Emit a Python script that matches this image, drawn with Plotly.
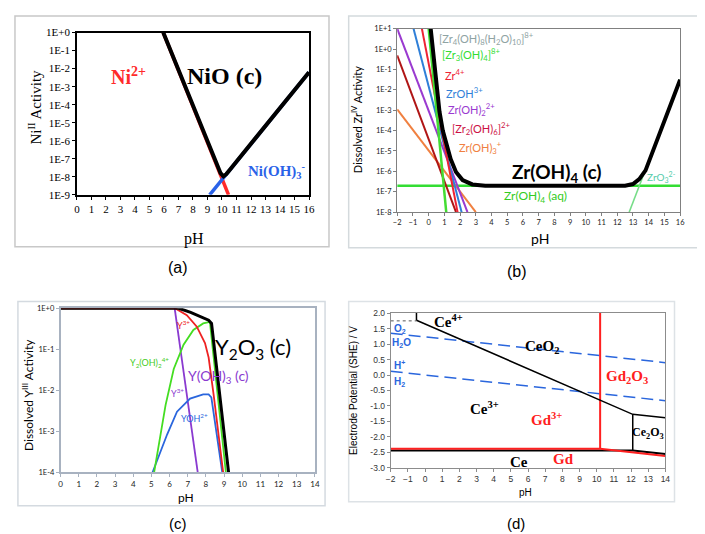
import plotly.graph_objects as go
import numpy as np

W, H = 705, 534

# ---------------- (a) Ni ----------------
a_ph_total = [5.95, 9.6, 9.9, 10.1, 10.3, 10.6, 16.0]
a_log_total = [0.0, -7.3, -7.8, -7.97, -7.85, -7.55, -2.2]
a_ph_ni2 = [5.95, 10.45]
a_log_ni2 = [0.0, -9.0]
a_ph_nioh3 = [9.15, 16.0]
a_log_nioh3 = [-9.0, -2.2]
a_yticks = [0, -1, -2, -3, -4, -5, -6, -7, -8, -9]

# ---------------- (b) Zr ----------------
b_ph_total = [0.13, 0.44, 0.69, 0.9, 1.12, 1.4, 1.74, 2.16, 2.78, 3.6, 12.5, 13.0, 13.4, 13.8, 16.0]
b_log_total = [1.0, -1.48, -3.07, -4.0, -4.67, -5.4, -6.03, -6.43, -6.64, -6.7, -6.7, -6.62, -6.38, -5.95, -1.5]
b_ph_zroh3 = [-2.0, 3.0]
b_log_zroh3 = [-2.96, -8.0]
b_ph_zr2oh6 = [-2.0, 1.74]
b_log_zr2oh6 = [-0.31, -8.0]
b_ph_zroh2 = [-2.0, 2.47]
b_log_zroh2 = [1.0, -8.0]
b_ph_zroh = [-0.96, 2.1]
b_log_zroh = [1.0, -8.0]
b_ph_zr4 = [-0.43, 1.84]
b_log_zr4 = [1.0, -8.0]
b_ph_zr3 = [0.0, 1.12]
b_log_zr3 = [1.0, -8.0]
b_ph_aq = [-2.0, 16.0]
b_log_aq = [-6.7, -6.7]
b_ph_zro3 = [12.76, 16.0]
b_log_zro3 = [-8.0, -1.5]
b_yticks = [1, 0, -1, -2, -3, -4, -5, -6, -7, -8]

# ---------------- (c) Y ----------------
c_ph_total = [0.0, 6.5, 7.16, 7.7, 8.15, 8.31, 9.25]
c_log_total = [0.0, 0.0, -0.1, -0.2, -0.29, -0.37, -4.0]
c_ph_y3 = [0.0, 6.3, 6.95, 7.5, 7.95, 8.15, 8.43, 8.95]
c_log_y3 = [0.0, 0.0, -0.17, -0.45, -0.85, -1.2, -2.12, -4.0]
c_ph_y2oh2 = [5.15, 5.78, 6.23, 6.77, 7.31, 7.85, 8.22, 9.1]
c_log_y2oh2 = [-4.0, -2.36, -1.48, -0.89, -0.53, -0.37, -0.33, -4.0]
c_ph_yoh = [5.06, 5.87, 6.41, 7.13, 7.85, 8.15, 8.3, 8.9]
c_log_yoh = [-4.0, -3.07, -2.52, -2.2, -2.1, -2.1, -2.17, -4.0]
c_ph_y3b = [6.28, 7.55]
c_log_y3b = [0.0, -4.0]
c_yticks = [0, -1, -2, -3, -4]

# ---------------- (d) Ce / Gd Pourbaix ----------------
d_ph_ce4v = [-0.5, -0.5]
d_e_ce4v = [2.0, 1.77]
d_ph_ceo2 = [-0.5, 12.1, 14.0]
d_e_ceo2 = [1.77, -1.27, -1.38]
d_ph_ce2o3v = [12.1, 12.1]
d_e_ce2o3v = [-1.27, -2.43]
d_ph_ce = [-2.0, 12.1, 14.0]
d_e_ce = [-2.44, -2.44, -2.55]
d_ph_dot = [-2.0, -0.5]
d_e_dot = [1.75, 1.75]
d_ph_gd = [-2.0, 10.2, 14.0]
d_e_gd = [-2.38, -2.38, -2.62]
d_ph_gdv = [10.2, 10.2]
d_e_gdv = [-2.38, 2.0]
d_ph_o2 = [-2.0, 14.0]
d_e_o2 = [1.35, 0.40]
d_ph_h2 = [-2.0, 14.0]
d_e_h2 = [0.12, -0.83]

SERIF = "Liberation Serif"
SANS = "Lato"
ARIAL = "Liberation Sans"

def px_dom(x0, x1):
    return [x0 / W, x1 / W]

def py_dom(y0, y1):
    return [1 - y1 / H, 1 - y0 / H]

fig = go.Figure()

def line(x, y, color, width, xa, ya, dash="solid", logy=False):
    yy = np.power(10.0, np.array(y)) if logy else y
    fig.add_trace(go.Scatter(x=x, y=yy, mode="lines", xaxis=xa, yaxis=ya,
                             line=dict(color=color, width=width, dash=dash),
                             showlegend=False, hoverinfo="skip"))

# (a)
line(a_ph_ni2, a_log_ni2, "#ff2a2a", 3.5, "x", "y", logy=True)
line(a_ph_nioh3, a_log_nioh3, "#2a62e8", 3.5, "x", "y", logy=True)
line(a_ph_total, a_log_total, "#000000", 4, "x", "y", logy=True)

# (b)
line(b_ph_aq, b_log_aq, "#33dd33", 2.5, "x2", "y2", logy=True)
line(b_ph_zroh3, b_log_zroh3, "#f08040", 2, "x2", "y2", logy=True)
line(b_ph_zr2oh6, b_log_zr2oh6, "#b01515", 2, "x2", "y2", logy=True)
line(b_ph_zroh2, b_log_zroh2, "#9a3ad0", 2, "x2", "y2", logy=True)
line(b_ph_zroh, b_log_zroh, "#2f7fd8", 2, "x2", "y2", logy=True)
line(b_ph_zr4, b_log_zr4, "#ee2233", 2, "x2", "y2", logy=True)
line(b_ph_zr3, b_log_zr3, "#44dd33", 2.5, "x2", "y2", logy=True)
line(b_ph_zro3, b_log_zro3, "#77dd88", 1.5, "x2", "y2", logy=True)
line(b_ph_total, b_log_total, "#000000", 4, "x2", "y2", logy=True)

# (c)
line(c_ph_y3b, c_log_y3b, "#8a3ad0", 1.8, "x3", "y3", logy=True)
line(c_ph_yoh, c_log_yoh, "#2a66dd", 1.8, "x3", "y3", logy=True)
line(c_ph_y2oh2, c_log_y2oh2, "#44dd22", 1.8, "x3", "y3", logy=True)
line(c_ph_y3, c_log_y3, "#ee2222", 1.8, "x3", "y3", logy=True)
line(c_ph_total, c_log_total, "#000000", 3, "x3", "y3", logy=True)

# (d)
line(d_ph_o2, d_e_o2, "#2a66dd", 1.5, "x4", "y4", dash="12px,6px")
line(d_ph_h2, d_e_h2, "#2a66dd", 1.5, "x4", "y4", dash="12px,6px")
line(d_ph_dot, d_e_dot, "#555555", 1, "x4", "y4", dash="dot")
line(d_ph_ce, d_e_ce, "#000000", 2, "x4", "y4")
line(d_ph_gd, d_e_gd, "#ff2020", 2, "x4", "y4")
line(d_ph_gdv, d_e_gdv, "#ff2020", 2, "x4", "y4")
line(d_ph_ce4v, d_e_ce4v, "#000000", 1.5, "x4", "y4")
line(d_ph_ceo2, d_e_ceo2, "#000000", 1.5, "x4", "y4")
line(d_ph_ce2o3v, d_e_ce2o3v, "#000000", 1.5, "x4", "y4")

def logticks(vals):
    tv = [10.0 ** v for v in vals]
    tt = [("1E+%d" % v) if v >= 0 else ("1E%d" % v) for v in vals]
    return tv, tt

a_tv, a_tt = logticks(a_yticks)
b_tv, b_tt = logticks(b_yticks)
c_tv, c_tt = logticks(c_yticks)

common = dict(showgrid=False, zeroline=False, mirror=True, showline=True)

layout = dict(
    width=W, height=H, margin=dict(l=0, r=0, t=0, b=0),
    paper_bgcolor="white", plot_bgcolor="white", showlegend=False,
    xaxis=dict(domain=px_dom(65, 300.7), anchor="y", range=[0, 16], tickmode="array",
               tickvals=list(range(0, 17)), linecolor="black", linewidth=1.5,
               ticks="outside", ticklen=3, tickcolor="black",
               tickfont=dict(family=SERIF, size=11, color="black"), **common),
    yaxis=dict(domain=py_dom(19, 185), anchor="x", type="log", range=[-9, 0],
               tickmode="array", tickvals=a_tv, ticktext=a_tt, linecolor="black", linewidth=1.5,
               ticks="outside", ticklen=3, tickcolor="black",
               tickfont=dict(family=SERIF, size=11, color="black"), **common),
    xaxis2=dict(domain=px_dom(390.3, 677.7), anchor="y2", range=[-2, 16], tickmode="array",
                tickvals=list(range(-2, 17)), linecolor="#808080", linewidth=1,
                ticks="outside", ticklen=3, tickcolor="#808080",
                tickfont=dict(family=SANS, size=7.5, color="#222"), **common),
    yaxis2=dict(domain=py_dom(15, 202.7), anchor="x2", type="log", range=[-8, 1],
                tickmode="array", tickvals=b_tv, ticktext=b_tt, linecolor="#808080", linewidth=1,
                ticks="outside", ticklen=3, tickcolor="#808080",
                tickfont=dict(family=SANS, size=7.5, color="#222"), **common),
    xaxis3=dict(domain=px_dom(48.3, 306.7), anchor="y3", range=[0, 14], tickmode="array",
                tickvals=list(range(0, 15)), linecolor="#a8b2c0", linewidth=1.5,
                ticks="outside", ticklen=3, tickcolor="#a8b2c0",
                tickfont=dict(family=SANS, size=8, color="#222"), **common),
    yaxis3=dict(domain=py_dom(301, 469), anchor="x3", type="log", range=[-4, 0],
                tickmode="array", tickvals=c_tv, ticktext=c_tt, linecolor="#a8b2c0", linewidth=1.5,
                ticks="outside", ticklen=3, tickcolor="#a8b2c0",
                tickfont=dict(family=SANS, size=7.5, color="#222"), **common),
    xaxis4=dict(domain=px_dom(383.7, 662.7), anchor="y4", range=[-2, 14], tickmode="array",
                tickvals=list(range(-2, 15)), linecolor="#8c8c8c", linewidth=1,
                ticks="outside", ticklen=3, tickcolor="#8c8c8c",
                tickfont=dict(family=ARIAL, size=8.5, color="#333"), **common),
    yaxis4=dict(domain=py_dom(306, 464.3), anchor="x4", range=[-3, 2], tickmode="array",
                tickvals=[2, 1.5, 1, 0.5, 0, -0.5, -1, -1.5, -2, -2.5, -3],
                ticktext=["2.0", "1.5", "1.0", "0.5", "0.0", "-0.5", "-1.0", "-1.5", "-2.0", "-2.5", "-3.0"],
                linecolor="#8c8c8c", linewidth=1,
                ticks="outside", ticklen=3, tickcolor="#8c8c8c",
                tickfont=dict(family=ARIAL, size=8.5, color="#333"), **common),
)
fig.update_layout(**layout)

# outer frames
frames = [(2, 2, 321, 238, "#c8c8c8"), (341, 2, 702, 239, "#d4dadd"),
          (5, 294, 317, 503, "#d4dae0"), (341, 294, 672, 499, "#dde2e6")]
for x0, y0, x1, y1, c in frames:
    fig.add_shape(type="rect", xref="paper", yref="paper", x0=x0 / W, x1=x1 / W,
                  y0=1 - y1 / H, y1=1 - y0 / H, line=dict(color=c, width=1.5))

ann = []
def A(text, x, y, xr, yr, size, color="black", family=SANS, angle=0, xanchor="center", bold=False):
    if bold:
        text = "<b>" + text + "</b>"
    ann.append(dict(text=text, x=x, y=y, xref=xr, yref=yr, showarrow=False,
                    font=dict(size=size, color=color, family=family), textangle=angle,
                    xanchor=xanchor, yanchor="middle"))

def P(text, px, py, size, color="black", family=SANS, angle=0, xanchor="center", bold=False):
    A(text, px / W, 1 - py / H, "paper", "paper", size, color, family, angle, xanchor, bold)

# captions
P("(a)", 168, 259, 16, family=ARIAL)
P("(b)", 512, 263, 16, family=ARIAL)
P("(c)", 168, 521, 15, family=ARIAL)
P("(d)", 511, 521, 15, family=ARIAL)

# axis titles
P("Ni<sup>II</sup> Activity", 22, 95, 15, family=SERIF, angle=-90)
P("pH", 184, 230, 16, family=SERIF)
P("Dissolved Zr<sup>IV</sup> Activity", 349, 108, 11, family=SANS, angle=-90)
P("pH", 535, 230, 14, family=SANS)
P("Dissolved Y<sup>III</sup> Activity", 15, 390, 12, family=SANS, angle=-90)
P("pH", 176, 495, 12, family=SANS)
P("Electrode Potential (SHE) / V", 346, 385, 10, family=ARIAL, angle=-90)
P("pH", 521, 490, 10, family=ARIAL)

# (a) labels
A("Ni<sup>2+</sup>", 3.53, -2.39, "x", "y", 20, "#ff2a2a", SERIF, bold=True)
A("NiO (c)", 10.2, -2.39, "x", "y", 24, "black", SERIF, bold=True)
A("Ni(OH)<sub>3</sub><sup>-</sup>", 13.8, -7.65, "x", "y", 15, "#2a62e8", SERIF, bold=True)

# (b) labels
A("[Zr<sub>4</sub>(OH)<sub>8</sub>(H<sub>2</sub>O)<sub>10</sub>]<sup>8+</sup>", 0.55, 0.52, "x2", "y2", 11, "#8fa3a3", SANS, xanchor="left")
A("[Zr<sub>3</sub>(OH)<sub>4</sub>]<sup>8+</sup>", 0.72, -0.28, "x2", "y2", 11, "#33dd33", SANS, xanchor="left")
A("Zr<sup>4+</sup>", 0.92, -1.24, "x2", "y2", 11, "#ee2233", SANS, xanchor="left")
A("ZrOH<sup>3+</sup>", 0.99, -2.12, "x2", "y2", 11, "#2f7fd8", SANS, xanchor="left")
A("Zr(OH)<sub>2</sub><sup>2+</sup>", 1.13, -2.98, "x2", "y2", 11, "#9a3ad0", SANS, xanchor="left")
A("[Zr<sub>2</sub>(OH)<sub>6</sub>]<sup>2+</sup>", 1.34, -3.89, "x2", "y2", 11, "#cc1144", SANS, xanchor="left")
A("Zr(OH)<sub>3</sub><sup>+</sup>", 1.82, -4.85, "x2", "y2", 11, "#f08040", SANS, xanchor="left")
A("Zr(OH)<sub>4</sub> (c)", 8.13, -6.1, "x2", "y2", 19, "black", SANS, bold=True)
A("Zr(OH)<sub>4</sub> (aq)", 6.77, -7.25, "x2", "y2", 12, "#33cc22", SANS)
A("ZrO<sub>3</sub><sup>2-</sup>", 13.76, -6.29, "x2", "y2", 10, "#55ccaa", SANS, xanchor="left")

# (c) labels
A("Y<sup>3+</sup>", 6.76, -0.4, "x3", "y3", 9, "#ee2222", SANS)
A("Y<sub>2</sub>(OH)<sub>2</sub><sup>4+</sup>", 4.88, -1.33, "x3", "y3", 9, "#44cc22", SANS)
A("Y<sup>3+</sup>", 6.41, -2.07, "x3", "y3", 9, "#8a3ad0", SANS)
A("YOH<sup>2+</sup>", 7.4, -2.67, "x3", "y3", 9, "#2a66dd", SANS)
A("Y<sub>2</sub>O<sub>3</sub> (c)", 10.6, -0.98, "x3", "y3", 22, "black", SANS)
A("Y(OH)<sub>3</sub> (c)", 8.67, -1.67, "x3", "y3", 14, "#8a3ad0", SANS)

# (d) labels
A("Ce<sup>4+</sup>", 1.35, 1.75, "x4", "y4", 15, "black", SERIF, bold=True)
A("CeO<sub>2</sub>", 6.8, 0.9, "x4", "y4", 15, "black", SERIF, bold=True)
A("Ce<sup>3+</sup>", 3.46, -1.06, "x4", "y4", 15, "black", SERIF, bold=True)
A("Gd<sup>3+</sup>", 7.08, -1.41, "x4", "y4", 15, "#ff2020", SERIF, bold=True)
A("Gd<sub>2</sub>O<sub>3</sub>", 11.78, -0.08, "x4", "y4", 15, "#ff2020", SERIF, bold=True)
A("Ce<sub>2</sub>O<sub>3</sub>", 13.0, -1.88, "x4", "y4", 12, "black", SERIF, bold=True)
A("Ce", 5.47, -2.8, "x4", "y4", 15, "black", SERIF, bold=True)
A("Gd", 8.05, -2.7, "x4", "y4", 15, "#ff2020", SERIF, bold=True)
A("O<sub>2</sub>", -1.47, 1.5, "x4", "y4", 10, "#2a66dd", ARIAL, bold=True)
A("H<sub>2</sub>O", -1.35, 1.03, "x4", "y4", 10, "#2a66dd", ARIAL, bold=True)
A("H<sup>+</sup>", -1.47, 0.32, "x4", "y4", 10, "#2a66dd", ARIAL, bold=True)
A("H<sub>2</sub>", -1.5, -0.21, "x4", "y4", 10, "#2a66dd", ARIAL, bold=True)

fig.update_layout(annotations=ann)
fig.write_html("out.html")
